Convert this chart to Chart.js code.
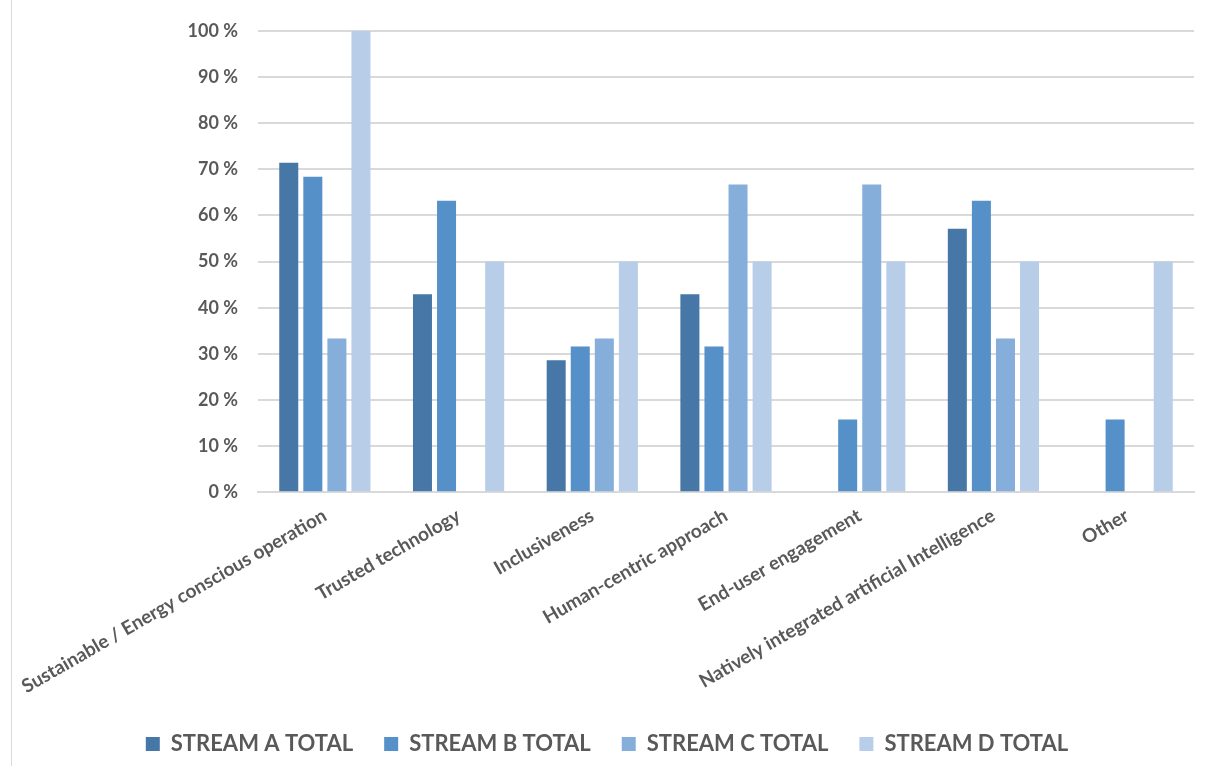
<!DOCTYPE html>
<html>
<head>
<meta charset="utf-8">
<script src="https://cdn.jsdelivr.net/npm/chart.js@4"></script>
<style>
  html, body { margin: 0; padding: 0; background: #fff; }
  .frame { position: absolute; left: 11px; top: 0; width: 1204px; height: 766px; border-left: 1px solid #d9d9d9; border-right: 1px solid #d9d9d9; }
  .wrap { position: absolute; left: 0; top: 0; width: 1216px; height: 767px; }
</style>
</head>
<body>
<div class="frame"></div>
<div class="wrap"><canvas id="chart"></canvas></div>
<script>
const categories = [
  "Sustainable / Energy conscious operation",
  "Trusted technology",
  "Inclusiveness",
  "Human-centric approach",
  "End-user engagement",
  "Natively integrated artificial Intelligence",
  "Other"
];
const streamA = [71.4, 42.9, 28.6, 42.9, 0, 57.1, 0];
const streamB = [68.4, 63.2, 31.6, 31.6, 15.8, 63.2, 15.8];
const streamC = [33.3, 0, 33.3, 66.7, 66.7, 33.3, 0];
const streamD = [100, 50, 50, 50, 50, 50, 50];
const seriesNames = ["STREAM A TOTAL", "STREAM B TOTAL", "STREAM C TOTAL", "STREAM D TOTAL"];
const seriesColours = ["#4677a6", "#5590c8", "#86aedb", "#b8cde8"];

const textColour = "#595959";
const fontFamily = "Lato, 'Open Sans', sans-serif";

const chartEl = document.getElementById("chart");

function makeDataset(i, values) {
  return {
    label: seriesNames[i],
    data: values,
    backgroundColor: seriesColours[i],
    borderWidth: 0,
    barPercentage: 0.79,
    categoryPercentage: 0.72
  };
}

new Chart(chartEl, {
  type: 'bar',
  data: {
    labels: categories,
    datasets: [
      makeDataset(0, streamA),
      makeDataset(1, streamB),
      makeDataset(2, streamC),
      makeDataset(3, streamD)
    ]
  },
  options: {
    responsive: true,
    maintainAspectRatio: false,
    animation: false,
    layout: {
      padding: { left: 20, right: 22, top: 22, bottom: 2 }
    },
    plugins: {
      tooltip: { enabled: false },
      legend: {
        position: 'bottom',
        labels: {
          color: textColour,
          font: { family: fontFamily, size: 22, weight: 'bold' },
          boxWidth: 14,
          boxHeight: 14,
          padding: 31
        }
      }
    },
    scales: {
      x: {
        grid: { display: false },
        border: { display: true, color: "#d9d9d9", width: 2 },
        ticks: {
          color: textColour,
          font: { family: fontFamily, size: 19, weight: 'bold' },
          minRotation: 30,
          maxRotation: 30,
          autoSkip: false,
          padding: 4
        }
      },
      y: {
        min: 0,
        max: 100,
        border: { display: false },
        grid: { color: "#d9d9d9", lineWidth: 2, drawTicks: false },
        afterFit: scale => { scale.width = 238; },
        ticks: {
          stepSize: 10,
          color: textColour,
          font: { family: fontFamily, size: 18, weight: 'bold' },
          padding: 20,
          callback: value => value + " %"
        }
      }
    }
  }
});
</script>
</body>
</html>
